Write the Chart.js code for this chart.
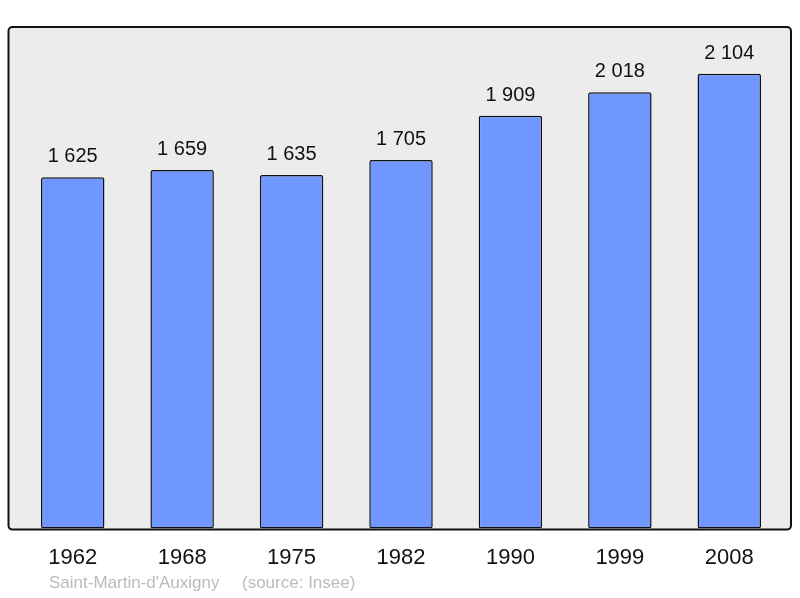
<!DOCTYPE html>
<html>
<head>
<meta charset="utf-8">
<script src="https://cdn.jsdelivr.net/npm/chart.js@4"></script>
<style>
  html, body { margin: 0; padding: 0; background: #fff; }
  #wrap { width: 800px; height: 598px; }
</style>
</head>
<body>
<div id="wrap"><canvas id="popChart"></canvas></div>
<script>
const years = ['1962', '1968', '1975', '1982', '1990', '1999', '2008'];
const population = [1625, 1659, 1635, 1705, 1909, 2018, 2104];
const placeName = "Saint-Martin-d'Auxigny";
const sourceText = '(source: Insee)';

function fmt(n) {
    return String(n).replace(/\B(?=(\d{3})+(?!\d))/g, ' ');
}

// grey framed panel behind the bars
const panelPlugin = {
    id: 'panel',
    beforeDraw(chart) {
        const { ctx, chartArea: a } = chart;
        const x = a.left - 9.5, y = a.top, w = a.right + 7 - x, h = a.bottom + 1 - y;
        ctx.save();
        ctx.beginPath();
        ctx.roundRect(x, y, w, h, 4);
        ctx.fillStyle = '#ececec';
        ctx.fill();
        ctx.lineWidth = 2;
        ctx.strokeStyle = '#111';
        ctx.stroke();
        ctx.restore();
    }
};

// values above bars + footer text
const labelPlugin = {
    id: 'labels',
    afterDraw(chart) {
        const { ctx } = chart;
        ctx.save();
        ctx.font = '20px "Liberation Sans", Arial, sans-serif';
        ctx.fillStyle = '#111';
        ctx.textAlign = 'center';
        ctx.textBaseline = 'alphabetic';
        chart.getDatasetMeta(0).data.forEach((bar, i) => {
            ctx.fillText(fmt(population[i]), bar.x, bar.y - 15);
        });
        ctx.font = '17px "Liberation Sans", Arial, sans-serif';
        ctx.fillStyle = '#bbbbbb';
        ctx.textAlign = 'left';
        ctx.textBaseline = 'middle';
        ctx.fillText(placeName, 49, 583);
        ctx.fillText(sourceText, 242, 583);
        ctx.restore();
    }
};

new Chart(document.getElementById('popChart'), {
    type: 'bar',
    data: {
        labels: years,
        datasets: [{
            data: population,
            backgroundColor: '#7096ff',
            borderColor: '#111',
            borderWidth: 1.5,
            borderSkipped: false,
            borderRadius: 2,
            barPercentage: 0.58,
            categoryPercentage: 1
        }]
    },
    options: {
        responsive: true,
        maintainAspectRatio: false,
        animation: false,
        layout: { padding: { left: 18, right: 16, top: 27, bottom: 11 } },
        plugins: {
            legend: { display: false },
            tooltip: { enabled: false }
        },
        scales: {
            y: {
                display: false,
                min: 0,
                max: 2320
            },
            x: {
                grid: { display: false, drawTicks: false },
                border: { display: false },
                ticks: {
                    color: '#111',
                    padding: 16,
                    font: { size: 22, family: '"Liberation Sans", Arial, sans-serif' }
                }
            }
        }
    },
    plugins: [panelPlugin, labelPlugin]
});
</script>
</body>
</html>
